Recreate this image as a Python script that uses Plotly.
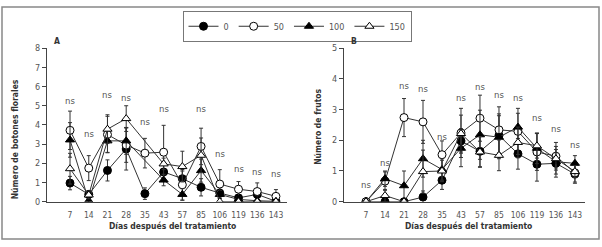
import plotly.graph_objects as go

days = ["7", "14", "21", "28", "35", "43", "57", "85", "106", "119", "136", "143"]
series_names = ["0", "50", "100", "150"]

# Panel A: Número de botones florales
a_0 = [0.97, 0.38, 1.63, 2.75, 0.42, 1.55, 1.2, 0.75, 0.45, 0.2, 0.38, 0.02]
a_50 = [3.72, 1.75, 3.5, 2.95, 2.53, 2.58, 0.88, 2.88, 0.92, 0.65, 0.53, 0.28]
a_100 = [3.22, 0.05, 3.17, 3.17, None, 1.13, 0.38, 1.62, 0.38, 0.12, 0.05, 0.02]
a_150 = [1.72, 0.35, 3.78, 4.33, None, 1.97, 1.83, 2.42, 0.0, 0.0, 0.0, 0.0]
a_0_err = [0.35, 0.2, 0.55, 1.1, 0.3, 0.5, 0.4, 0.45, 0.2, 0.15, 0.2, 0.0]
a_50_err = [1.0, 0.65, 0.95, 0.9, 0.77, 1.4, 0.8, 0.95, 0.75, 0.4, 0.45, 0.35]
a_100_err = [0.9, 0.1, 0.6, 0.7, None, 0.3, 0.3, 0.6, 0.2, 0.1, 0.05, 0.0]
a_150_err = [0.8, 0.2, 0.75, 0.67, None, 0.3, 0.8, 0.9, 0.0, 0.0, 0.0, 0.0]
a_ns = [5.28, 3.55, 5.58, 5.42, 4.17, 4.87, None, 4.87, 2.53, 1.75, 1.58, 1.45]

# Panel B: Número de frutos
b_0 = [0.0, 0.0, 0.0, 0.15, 0.7, 1.98, 1.64, 2.16, 1.56, 1.22, 1.25, 0.9]
b_50 = [0.0, 0.67, 2.74, 2.6, 1.53, 2.24, 2.72, 2.34, 2.29, 1.62, 1.48, 0.94]
b_100 = [0.0, 0.75, 0.52, 1.4, 1.05, 1.74, 2.18, 2.1, 2.43, 1.74, 1.3, 1.25]
b_150 = [0.0, 0.2, 0.0, 0.98, 1.0, 2.22, 1.62, 1.51, 1.93, 1.82, 1.4, 0.98]
b_0_err = [0.0, 0.0, 0.0, 0.2, 0.3, 0.4, 0.5, 0.7, 0.5, 0.55, 0.35, 0.3]
b_50_err = [0.0, 0.3, 0.62, 0.7, 0.45, 0.8, 0.75, 0.75, 0.75, 0.6, 0.45, 0.3]
b_100_err = [0.0, 0.25, 0.48, 0.6, 0.35, 0.6, 0.8, 0.7, 0.45, 0.5, 0.5, 0.25]
b_150_err = [0.0, 0.2, 0.0, 0.7, 0.35, 0.6, 0.5, 0.5, 0.5, 0.4, 0.3, 0.2]
b_ns = [0.57, 1.28, 3.77, 3.68, 2.13, 3.38, 3.75, 3.49, 3.38, 2.73, 2.4, 1.85]

W, H = 602, 247
FONT = "DejaVu Sans Condensed, Liberation Sans Narrow, Arial Narrow, sans-serif"
GRAY = "#555555"
DARK = "#333333"
idx = list(range(len(days)))

styles = {
    "0": dict(symbol="circle", color="black"),
    "50": dict(symbol="circle", color="white"),
    "100": dict(symbol="triangle-up", color="black"),
    "150": dict(symbol="triangle-up", color="white"),
}

fig = go.Figure()

def add_series(name, ys, errs, xa, ya, show):
    st = styles[name]
    fig.add_trace(go.Scatter(
        x=idx, y=ys, name=name, mode="lines+markers",
        xaxis=xa, yaxis=ya, connectgaps=True, showlegend=show,
        line=dict(color=DARK, width=1),
        marker=dict(symbol=st["symbol"], size=8,
                    color=st["color"], line=dict(color="black", width=1)),
        error_y=dict(type="data", array=errs, visible=True, color=DARK,
                     thickness=1, width=2),
    ))

for name, ys, errs in [("0", a_0, a_0_err), ("50", a_50, a_50_err),
                       ("100", a_100, a_100_err), ("150", a_150, a_150_err)]:
    add_series(name, ys, errs, "x", "y", True)
for name, ys, errs in [("0", b_0, b_0_err), ("50", b_50, b_50_err),
                       ("100", b_100, b_100_err), ("150", b_150, b_150_err)]:
    add_series(name, ys, errs, "x2", "y2", False)

def px_x(p):
    return p / W

def px_y(p):
    return 1 - p / H

ydom = [px_y(205), px_y(45)]

axis_common = dict(showline=True, linecolor="#444444", linewidth=1, showgrid=False,
                   zeroline=False)
xtick_font = dict(family=FONT, size=8.5, color=GRAY)
ytick_font = dict(family=FONT, size=9, color=GRAY)

fig.update_layout(
    width=W, height=H, margin=dict(l=0, r=0, t=0, b=0),
    paper_bgcolor="white", plot_bgcolor="white",
    font=dict(family=FONT, size=10, color=GRAY),
    xaxis=dict(domain=[px_x(47), px_x(287)], range=[-1.23, 11.59], tickmode="array",
               tickvals=idx, ticktext=days, tickangle=0, tickfont=xtick_font,
               ticklabelstandoff=5, anchor="y", ticks="", **axis_common),
    yaxis=dict(domain=ydom, range=[0, 8], anchor="x", ticks="outside", ticklen=4,
               tickcolor="#444444", dtick=1, tickfont=ytick_font, **axis_common),
    xaxis2=dict(domain=[px_x(344), px_x(585)], range=[-1.16, 11.53], tickmode="array",
                tickvals=idx, ticktext=days, tickangle=0, tickfont=xtick_font,
                ticklabelstandoff=5, anchor="y2", ticks="", **axis_common),
    yaxis2=dict(domain=ydom, range=[0, 5], anchor="x2", ticks="outside", ticklen=4,
                tickcolor="#444444", dtick=1, tickfont=ytick_font, **axis_common),
    legend=dict(orientation="h", x=px_x(297), y=px_y(6), xanchor="center", yanchor="top",
                bordercolor="#777777", borderwidth=1, bgcolor="white",
                font=dict(family=FONT, size=9, color=GRAY), itemwidth=30),
)

ann = []
for xa, ya, vals in [("x", "y", a_ns), ("x2", "y2", b_ns)]:
    for i, v in zip(idx, vals):
        if v is None:
            continue
        ann.append(dict(x=i, y=v, xref=xa, yref=ya, text="ns", showarrow=False,
                        xanchor="center", yanchor="middle",
                        font=dict(family=FONT, size=9.5, color=GRAY)))

def paper_text(x, y, text, size, angle=0):
    return dict(x=px_x(x), y=px_y(y), xref="paper", yref="paper", text=text,
                showarrow=False, xanchor="center", yanchor="middle", textangle=angle,
                borderpad=0, font=dict(family=FONT, size=size, color=DARK))

ann += [
    paper_text(57, 38, "<b>A</b>", 8.5),
    paper_text(354, 38, "<b>B</b>", 8.5),
    paper_text(172, 230, "<b>Días después del tratamiento</b>", 8.5),
    paper_text(468, 230, "<b>Días después del tratamiento</b>", 8.5),
    paper_text(15, 140, "<b>Número de botones florales</b>", 8.5, -90),
    paper_text(318, 127, "<b>Número de frutos</b>", 8.5, -90),
]
fig.update_layout(annotations=ann)

fig.add_shape(type="rect", xref="paper", yref="paper",
              x0=px_x(2), x1=px_x(599), y0=px_y(244), y1=px_y(2),
              line=dict(color="#888888", width=1.5))

fig.write_html("out.html", config={"displayModeBar": False},
               post_script="document.body.style.margin='0';document.body.style.overflow='hidden';")
